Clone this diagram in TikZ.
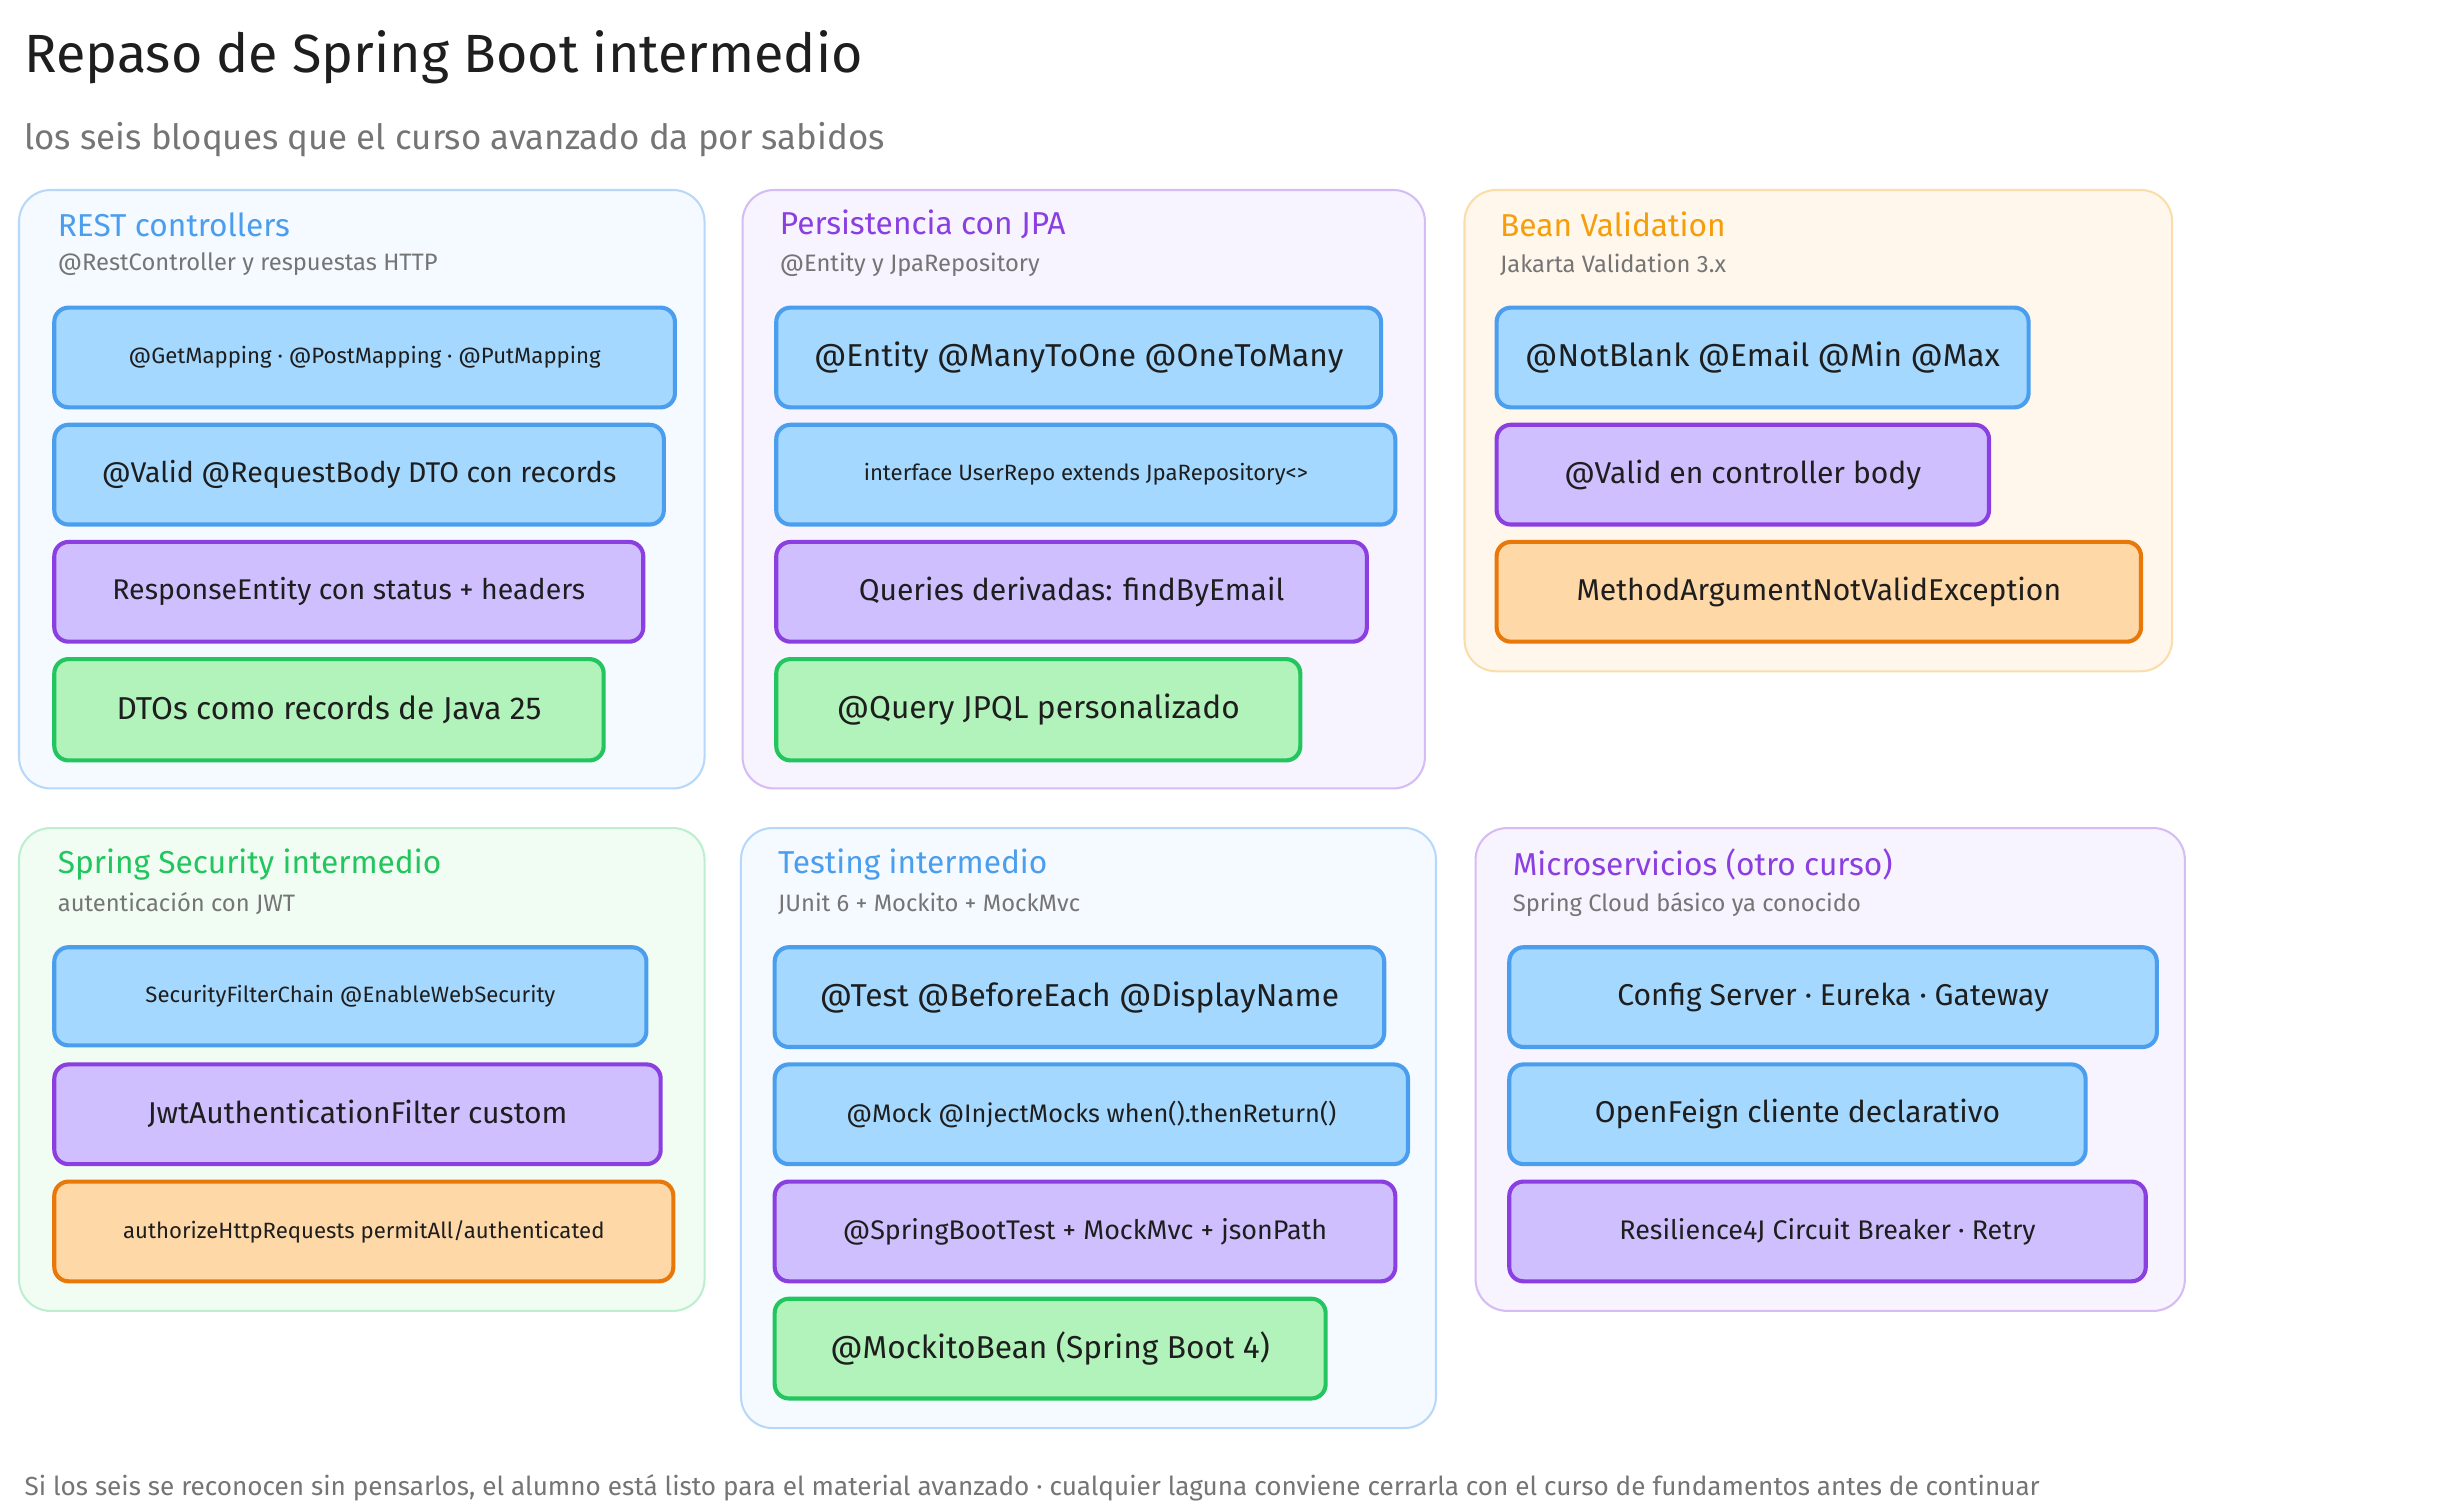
\documentclass[tikz,border=0pt]{standalone}
\usepackage{fontspec}
\setmainfont{Fira Sans}
\definecolor{bF}{HTML}{A5D8FF}\definecolor{bS}{HTML}{4A9EED}
\definecolor{pF}{HTML}{D0BFFF}\definecolor{pS}{HTML}{8B3FE0}
\definecolor{gF}{HTML}{B2F2BB}\definecolor{gS}{HTML}{22C55E}
\definecolor{oF}{HTML}{FFD8A8}\definecolor{oS}{HTML}{E8780A}
\definecolor{yT}{HTML}{F59E0B}
\definecolor{txt}{HTML}{1E1E1E}\definecolor{gry}{HTML}{757575}
\newcommand\itm[8]{\node[item,fill=#1F,draw=#1S,minimum width=#4pt,minimum height=#5pt,font=\fontsize{#6}{#6}\selectfont] (#2) at (#3) {#8};}
\begin{document}
\begin{tikzpicture}[x=1pt,y=-1pt,
 item/.style={anchor=north west,rounded corners=9pt,line width=2.6pt,text=txt,inner sep=0pt},
 panel/.style={rounded corners=20pt,line width=1.3pt},
 ptitle/.style={anchor=west,font=\fontsize{20}{20}\selectfont},
 psub/.style={anchor=west,text=gry,font=\fontsize{15}{15}\selectfont}]
\useasboundingbox (0,0) rectangle (1550,955);
\fill[white] (0,0) rectangle (1550,955);
\node[anchor=west,text=txt,font=\fontsize{34}{34}\selectfont] (title) at (12,36) {Repaso de Spring Boot intermedio};
\node[anchor=west,text=gry,font=\fontsize{22}{22}\selectfont] (sub) at (12,88) {los seis bloques que el curso avanzado da por sabidos};
% panels
\draw[panel,fill=bF!12,draw=bS!40] (12,120) rectangle (445,498);
\draw[panel,fill=pF!18,draw=pS!35] (469,120) rectangle (900,498);
\draw[panel,fill=oF!22,draw=yT!35] (925,120) rectangle (1372,424);
\draw[panel,fill=gF!18,draw=gS!30] (12,523) rectangle (445,828);
\draw[panel,fill=bF!12,draw=bS!40] (468,523) rectangle (907,902);
\draw[panel,fill=pF!18,draw=pS!35] (932,523) rectangle (1380,828);
% panel titles
\node[ptitle,text=bS] (t1) at (33,142) {REST controllers};
\node[psub] (s1) at (33,167) {@RestController y respuestas HTTP};
\node[ptitle,text=pS] (t2) at (489,142) {Persistencia con JPA};
\node[psub] (s2) at (489,167) {@Entity y JpaRepository};
\node[ptitle,text=yT] (t3) at (944,142) {Bean Validation};
\node[psub] (s3) at (944,167) {Jakarta Validation 3.x};
\node[ptitle,text=gS] (t4) at (33,546) {Spring Security intermedio};
\node[psub] (s4) at (33,571) {autenticación con JWT};
\node[ptitle,text=bS] (t5) at (488,546) {Testing intermedio};
\node[psub] (s5) at (488,571) {JUnit 6 + Mockito + MockMvc};
\node[ptitle,text=pS] (t6) at (952,546) {Microservicios (otro curso)};
\node[psub] (s6) at (952,571) {Spring Cloud básico ya conocido};
% items panel 1
\itm{b}{a1}{33,193}{392}{63}{14}{}{@GetMapping · @PostMapping · @PutMapping}
\itm{b}{a2}{33,267}{385}{63}{18}{}{@Valid @RequestBody DTO con records}
\itm{p}{a3}{33,341}{372}{63}{18}{}{ResponseEntity con status + headers}
\itm{g}{a4}{33,415}{347}{64}{20}{}{DTOs como records de Java 25}
% panel 2
\itm{b}{b1}{489,193}{382}{63}{20}{}{@Entity @ManyToOne @OneToMany}
\itm{b}{b2}{489,267}{391}{63}{14}{}{interface UserRepo extends JpaRepository<>}
\itm{p}{b3}{489,341}{373}{63}{19}{}{Queries derivadas: findByEmail}
\itm{g}{b4}{489,415}{331}{64}{20}{}{@Query JPQL personalizado}
% panel 3
\itm{b}{c1}{944,193}{336}{63}{20}{}{@NotBlank @Email @Min @Max}
\itm{p}{c2}{944,267}{311}{63}{19}{}{@Valid en controller body}
\itm{o}{c3}{944,341}{407}{63}{19}{}{MethodArgumentNotValidException}
% panel 4
\itm{b}{d1}{33,597}{374}{62}{14}{}{SecurityFilterChain @EnableWebSecurity}
\itm{p}{d2}{33,671}{383}{63}{19}{}{JwtAuthenticationFilter custom}
\itm{o}{d3}{33,745}{391}{63}{14}{}{authorizeHttpRequests permitAll/authenticated}
% panel 5
\itm{b}{e1}{488,597}{385}{63}{20}{}{@Test @BeforeEach @DisplayName}
\itm{b}{e2}{488,671}{400}{63}{16}{}{@Mock @InjectMocks when().thenReturn()}
\itm{p}{e3}{488,745}{392}{63}{17}{}{@SpringBootTest + MockMvc + jsonPath}
\itm{g}{e4}{488,819}{348}{63}{20}{}{@MockitoBean (Spring Boot 4)}
% panel 6
\itm{b}{f1}{952,597}{409}{63}{19}{}{Config Server · Eureka · Gateway}
\itm{b}{f2}{952,671}{364}{63}{19}{}{OpenFeign cliente declarativo}
\itm{p}{f3}{952,745}{402}{63}{17}{}{Resilience4J Circuit Breaker · Retry}
\node[anchor=west,text=gry,font=\fontsize{16.5}{16.5}\selectfont] (foot) at (12,940) {Si los seis se reconocen sin pensarlos, el alumno está listo para el material avanzado · cualquier laguna conviene cerrarla con el curso de fundamentos antes de continuar};
\end{tikzpicture}
\end{document}
